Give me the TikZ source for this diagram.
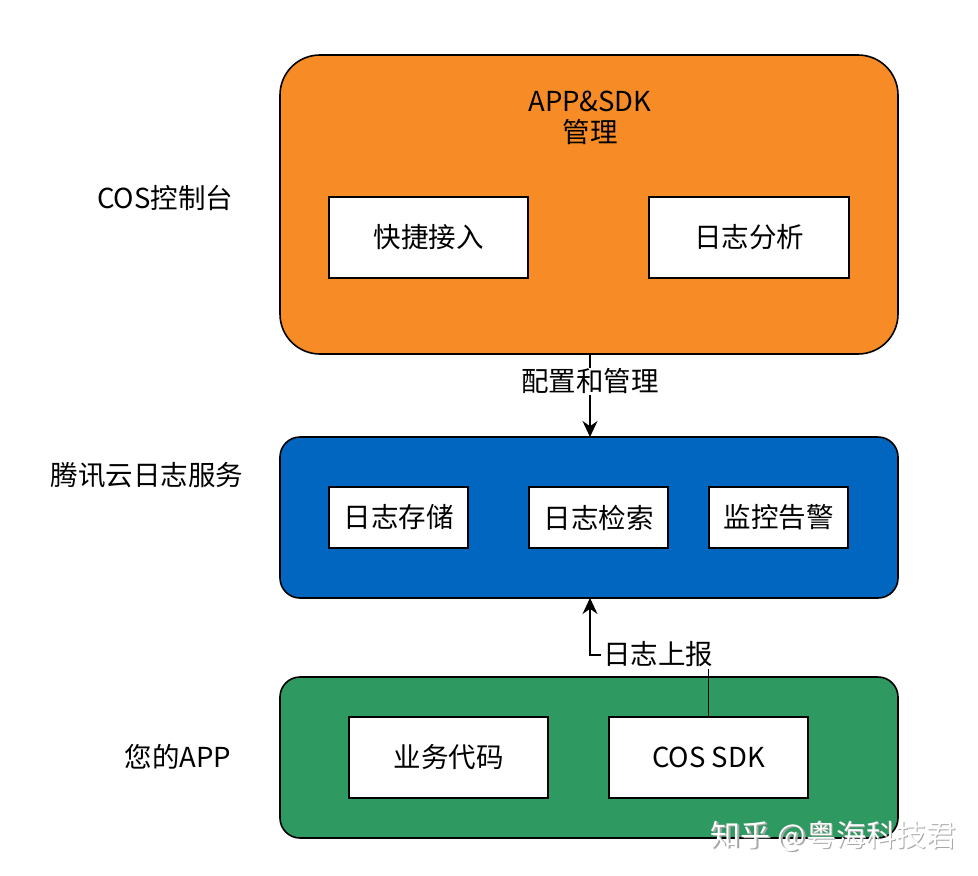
\documentclass[tikz,border=0pt]{standalone}
\usepackage{fontspec}
\setmainfont{Noto Sans CJK SC}
\usetikzlibrary{arrows.meta}
\definecolor{orangebg}{RGB}{247,140,38}
\definecolor{bluebg}{RGB}{0,102,192}
\definecolor{greenbg}{RGB}{46,153,96}
\tikzset{
  panel/.style={draw=black, line width=1.6pt},
  wbox/.style={draw=black, fill=white, line width=1.2pt, font=\fontsize{27.5}{32}\selectfont},
  lbl/.style={font=\fontsize{27.5}{32}\selectfont},
  conn/.style={draw=black, line width=1.5pt},
  tip/.style={-{Stealth[length=16pt,width=15pt]}}
}
\begin{document}
\begin{tikzpicture}[x=1pt,y=-1pt]
\useasboundingbox (0,0) rectangle (978,876);
% panels
\draw[panel, fill=orangebg, rounded corners=40pt] (280,55) rectangle (898,354);
\coordinate (orangeBot) at (590,354);
\draw[panel, fill=bluebg, rounded corners=20pt] (280,437) rectangle (898,598);
\coordinate (blueTop) at (590,437);
\coordinate (blueBot) at (590,598);
\draw[panel, fill=greenbg, rounded corners=20pt] (280,677) rectangle (898,838);
% orange title
\node[lbl, align=center] (title) at (590,118) {APP\&SDK\\[-1pt]管理};
% boxes
\node[wbox, minimum width=199pt, minimum height=81pt] (kj) at (428.5,237.5) {快捷接入};
\node[wbox, minimum width=200pt, minimum height=81pt] (rzfx) at (749,237.5) {日志分析};
\node[wbox, minimum width=139pt, minimum height=61pt] (cc) at (398.5,517.5) {日志存储};
\node[wbox, minimum width=139pt, minimum height=61pt] (js) at (598.5,517.5) {日志检索};
\node[wbox, minimum width=139pt, minimum height=61pt] (jk) at (778.5,517.5) {监控告警};
\node[wbox, minimum width=199pt, minimum height=81pt] (yw) at (448.5,757.5) {业务代码};
\node[wbox, minimum width=199pt, minimum height=81pt] (sdk) at (708.5,757.5) {COS SDK};
% side labels
\node[lbl] (l1) at (165,198) {COS控制台};
\node[lbl] (l2) at (147,475) {腾讯云日志服务};
\node[lbl] (l3) at (178,757) {您的APP};
% connectors
\draw[conn, tip] (orangeBot) -- node[lbl, fill=white, inner sep=1pt, pos=0.33] (pz) {配置和管理} (blueTop);
\coordinate (bend1) at (sdk.north |- 0,655);
\coordinate (bend2) at (590,655);
\draw[conn, tip] (sdk.north) -- (bend1) -- (bend2) -- (blueBot);
\node[lbl, fill=white, inner sep=2pt] (sb) at (658,654) {日志上报};
% watermark
\node[font=\fontsize{30}{32}\selectfont, text=black!35] (wm0) at (835,837.5) {知乎 @粤海科技君};
\node[font=\fontsize{30}{32}\selectfont, text=white] (wm) at (833.5,836) {知乎 @粤海科技君};
\end{tikzpicture}
\end{document}
